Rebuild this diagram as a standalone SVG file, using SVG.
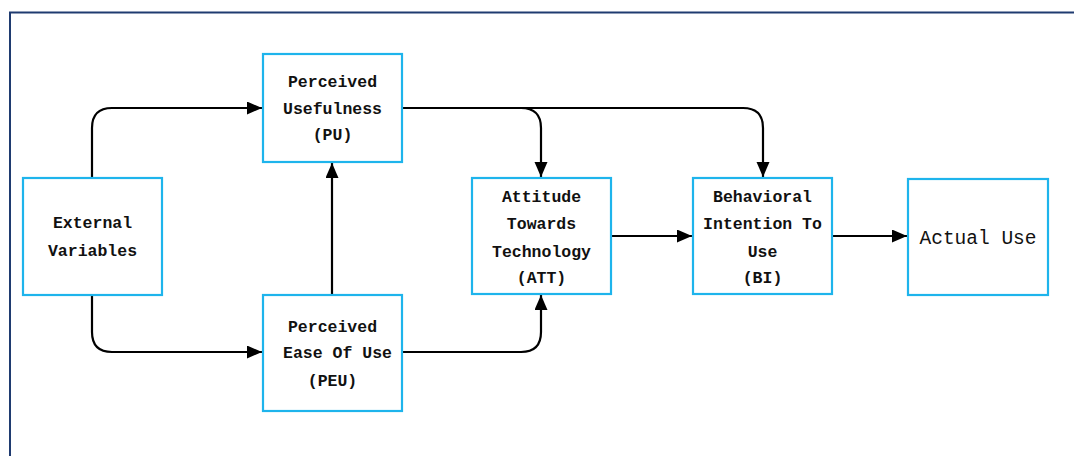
<svg xmlns="http://www.w3.org/2000/svg" width="1074" height="456" viewBox="0 0 1074 456">
<defs>
<marker id="arr" markerUnits="userSpaceOnUse" markerWidth="16" markerHeight="14" refX="15" refY="6.5" orient="auto">
<path d="M0,0 L15,6.5 L0,13 z" fill="#000"/>
</marker>
<style>
.box{fill:#fff;stroke:#1eb4ec;stroke-width:2.2}
.t{font-family:"Liberation Mono","Courier New",monospace;font-weight:bold;font-size:16.5px;fill:#111;text-anchor:middle}
.big{font-family:"Liberation Mono","Courier New",monospace;font-size:19.5px;fill:#111;text-anchor:middle}
.c{fill:none;stroke:#000;stroke-width:2.2;marker-end:url(#arr)}
</style>
</defs>
<rect x="0" y="0" width="1074" height="456" fill="#fff"/>
<rect x="10" y="12.5" width="1100" height="500" fill="none" stroke="#1f3b70" stroke-width="2"/>
<g id="connectors">
<path class="c" d="M92,178 V128 Q92,108 112,108 H262"/>
<path class="c" d="M92,295 V332 Q92,352 112,352 H262"/>
<path class="c" d="M332,295 V163"/>
<path class="c" d="M402,108 H521 Q541,108 541,128 V177"/>
<path class="c" d="M402,108 H743 Q763,108 763,128 V177"/>
<path class="c" d="M402,352 H521 Q541,352 541,332 V295"/>
<path class="c" d="M611,236 H692"/>
<path class="c" d="M832,236 H907"/>
</g>
<g id="ev">
<rect class="box" x="23" y="178" width="139" height="117"/>
<text class="t" x="92.5" y="228">External</text>
<text class="t" x="92.5" y="256">Variables</text>
</g>
<g id="pu">
<rect class="box" x="263" y="54" width="139" height="108"/>
<text class="t" x="332.5" y="87">Perceived</text>
<text class="t" x="332.5" y="114">Usefulness</text>
<text class="t" x="332.5" y="140">(PU)</text>
</g>
<g id="peu">
<rect class="box" x="263" y="295" width="139" height="116"/>
<text class="t" x="332.5" y="332">Perceived</text>
<text class="t" x="337.5" y="358">Ease Of Use</text>
<text class="t" x="332.5" y="386">(PEU)</text>
</g>
<g id="att">
<rect class="box" x="472" y="178" width="139" height="116"/>
<text class="t" x="541.5" y="202">Attitude</text>
<text class="t" x="541.5" y="229">Towards</text>
<text class="t" x="541.5" y="257">Technology</text>
<text class="t" x="541.5" y="283">(ATT)</text>
</g>
<g id="bi">
<rect class="box" x="693" y="178" width="139" height="116"/>
<text class="t" x="762.5" y="202">Behavioral</text>
<text class="t" x="762.5" y="229">Intention To</text>
<text class="t" x="762.5" y="257">Use</text>
<text class="t" x="762.5" y="283">(BI)</text>
</g>
<g id="au">
<rect class="box" x="908" y="179" width="140" height="116"/>
<text class="big" x="978" y="244">Actual Use</text>
</g>
</svg>
